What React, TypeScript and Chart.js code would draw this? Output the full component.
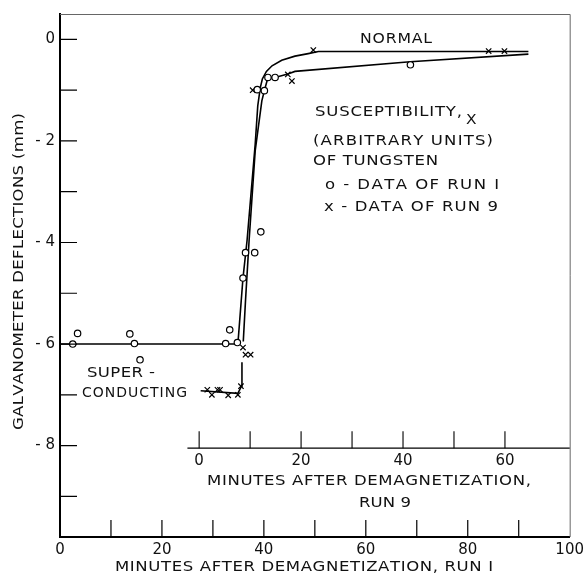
import React, { useEffect, useRef } from "react";
import { Chart, registerables } from "chart.js";

Chart.register(...registerables);

// ---- axes ----
const X_TICKS = [0, 20, 40, 60, 80, 100];
const X_MINOR = [10, 20, 30, 40, 50, 60, 70, 80, 90];
const Y_TICKS = [0, -2, -4, -6, -8];
const Y_MINOR = [0, -1, -2, -3, -4, -5, -6, -7, -8, -9];
const RUN9_TICKS = [0, 10, 20, 30, 40, 50, 60];
const RUN9_LABELS = [0, 20, 40, 60];
const RUN9_OFFSET = 27.3; // run-1 minute at which run-9 time is zero
const RUN9_AXIS_START = -2.3; // run-9 minutes where its axis line begins
const RUN9_AXIS_Y = -8.05;

// ---- run 1 (circles), minutes after demagnetization, run 1 ----
const RUN1_X = [2.5, 3.45, 13.7, 14.6, 15.7, 32.5, 33.3, 34.8, 35.9, 36.4, 38.2, 39.4, 38.7, 40.1, 40.8, 42.2, 68.75];
const RUN1_Y = [-6.0, -5.79, -5.8, -5.99, -6.31, -5.99, -5.72, -5.97, -4.7, -4.2, -4.2, -3.79, -0.99, -1.01, -0.75, -0.75, -0.5];

// ---- run 9 (crosses), minutes after demagnetization, run 9 ----
const RUN9_X = [1.6, 2.5, 3.6, 4.1, 5.7, 7.6, 8.2, 8.6, 9.1, 10.1, 10.5, 17.4, 18.2, 22.4, 56.8, 59.9];
const RUN9_Y = [-6.9, -7.0, -6.9, -6.9, -7.01, -7.0, -6.83, -6.07, -6.21, -6.21, -1.0, -0.69, -0.82, -0.21, -0.23, -0.23];

// ---- hand-drawn curves ----
const CURVE1_X = [0, 34.9, 35.9, 36.7, 38.3, 38.8, 39.3, 39.7, 40.5, 41.6, 43.5, 46.1, 48.7, 50.7, 91.9];
const CURVE1_Y = [-6.0, -6.0, -4.7, -3.96, -2.06, -1.31, -0.95, -0.78, -0.63, -0.52, -0.41, -0.33, -0.28, -0.24, -0.24];
const CURVE9_X = [0.3, 7.6, 8.3, 8.4, 8.5, 8.66, 9.1, 9.8, 11.0, 12.3, 12.8, 13.5, 14.9, 17.4, 18.8, 41.4, 64.6];
const CURVE9_Y = [-6.92, -6.97, -6.83, -6.36, null, -5.95, -5.14, -3.96, -2.19, -1.21, -1.01, -0.75, -0.75, -0.68, -0.63, -0.44, -0.29];

const FONT = '"DejaVu Sans", "Liberation Sans", sans-serif';
const INK = "#111";
const STRETCH = 1.18;

function pts(xs: number[], ys: (number | null)[]) {
  return xs.map((x, i) => ({ x, y: ys[i] }));
}

// draw lettering spread between left and right, glyphs slightly widened
function spaced(ctx: CanvasRenderingContext2D, text: string, left: number, right: number, cy: number, sx = STRETCH) {
  const chars = [...text];
  const widths = chars.map((c) => ctx.measureText(c).width * sx);
  const total = widths.reduce((a, b) => a + b, 0);
  const gap = chars.length > 1 ? (right - left - total) / (chars.length - 1) : 0;
  let x = left;
  ctx.textAlign = "left";
  ctx.textBaseline = "middle";
  chars.forEach((c, i) => {
    ctx.save();
    ctx.translate(x, cy);
    ctx.scale(sx, 1);
    ctx.fillText(c, 0, 0);
    ctx.restore();
    x += widths[i] + gap;
  });
}

const decorations = {
  id: "decorations",
  afterDraw(chart: any) {
    const ctx: CanvasRenderingContext2D = chart.ctx;
    const xs = chart.scales.x;
    const ys = chart.scales.y;
    const x9 = chart.scales.x9;
    const { left, right, top, bottom } = chart.chartArea;
    ctx.save();

    // thin top / right frame
    ctx.strokeStyle = "#666";
    ctx.lineWidth = 1;
    ctx.beginPath();
    ctx.moveTo(left, top + 0.5);
    ctx.lineTo(right + 0.5, top + 0.5);
    ctx.lineTo(right + 0.5, bottom);
    ctx.stroke();

    // inward ticks
    ctx.strokeStyle = "#000";
    ctx.lineWidth = 1.2;
    ctx.beginPath();
    Y_MINOR.forEach((v) => {
      const py = ys.getPixelForValue(v);
      ctx.moveTo(left, py);
      ctx.lineTo(left + 17, py);
    });
    X_MINOR.forEach((v) => {
      const px = xs.getPixelForValue(v);
      ctx.moveTo(px, bottom);
      ctx.lineTo(px, bottom - 17);
    });
    ctx.stroke();

    // run 9 axis
    const ay = ys.getPixelForValue(RUN9_AXIS_Y);
    ctx.lineWidth = 1.4;
    ctx.beginPath();
    ctx.moveTo(x9.getPixelForValue(RUN9_AXIS_START), ay);
    ctx.lineTo(right, ay);
    ctx.stroke();
    ctx.lineWidth = 1.1;
    ctx.beginPath();
    RUN9_TICKS.forEach((t) => {
      const px = x9.getPixelForValue(t);
      ctx.moveTo(px, ay);
      ctx.lineTo(px, ay - 17);
    });
    ctx.stroke();

    ctx.fillStyle = INK;
    ctx.font = `15px ${FONT}`;
    ctx.textAlign = "center";
    ctx.textBaseline = "middle";
    RUN9_LABELS.forEach((t) => {
      ctx.fillText(String(t), x9.getPixelForValue(t), ay + 13);
    });

    ctx.font = `14px ${FONT}`;
    spaced(ctx, "MINUTES AFTER DEMAGNETIZATION,", 207, 531, ay + 33);
    spaced(ctx, "RUN 9", 359, 411, ay + 55);

    // bottom axis title
    spaced(ctx, "MINUTES AFTER DEMAGNETIZATION, RUN I", 115, 493, 567);

    // y axis title (rotated)
    ctx.save();
    ctx.translate(19, 430);
    ctx.rotate(-Math.PI / 2);
    spaced(ctx, "GALVANOMETER DEFLECTIONS (mm)", 0, 317, 0);
    ctx.restore();

    // annotations
    ctx.font = `14px ${FONT}`;
    spaced(ctx, "NORMAL", 360, 432, 39, 1.12);
    spaced(ctx, "SUSCEPTIBILITY,", 315, 462, 112);
    spaced(ctx, "X", 466, 477, 120, 1.1);
    spaced(ctx, "(ARBITRARY UNITS)", 313, 493, 141);
    spaced(ctx, "OF TUNGSTEN", 313, 438, 161);
    spaced(ctx, "o - DATA OF RUN I", 325, 499, 185);
    spaced(ctx, "x - DATA OF RUN 9", 324, 498, 207);
    spaced(ctx, "SUPER -", 87, 155, 373);
    spaced(ctx, "CONDUCTING", 82, 187, 393, 1.0);

    ctx.restore();
  },
};

export default function App() {
  const ref = useRef<HTMLCanvasElement>(null);
  useEffect(() => {
    document.body.style.margin = "0";
    const canvas = ref.current!;
    const chart = new Chart(canvas, {
      type: "scatter",
      data: {
        datasets: [
          {
            label: "Run 1 data",
            data: pts(RUN1_X, RUN1_Y),
            xAxisID: "x",
            pointStyle: "circle",
            pointRadius: 3.2,
            pointBorderWidth: 1.2,
            pointBorderColor: "#000",
            pointBackgroundColor: "#fff",
            showLine: false,
            order: 0,
          },
          {
            label: "Run 9 data",
            data: pts(RUN9_X, RUN9_Y),
            xAxisID: "x9",
            pointStyle: "crossRot",
            pointRadius: 3.8,
            pointBorderWidth: 1.2,
            pointBorderColor: "#000",
            pointBackgroundColor: "#000",
            showLine: false,
            order: 0,
          },
          {
            label: "Run 1 curve",
            data: pts(CURVE1_X, CURVE1_Y),
            xAxisID: "x",
            showLine: true,
            pointRadius: 0,
            borderColor: "#000",
            borderWidth: 1.6,
            tension: 0,
            order: 1,
          },
          {
            label: "Run 9 curve",
            data: pts(CURVE9_X, CURVE9_Y),
            xAxisID: "x9",
            showLine: true,
            spanGaps: false,
            pointRadius: 0,
            borderColor: "#000",
            borderWidth: 1.6,
            tension: 0,
            order: 1,
          },
        ],
      },
      options: {
        animation: false,
        responsive: false,
        devicePixelRatio: 1,
        layout: { padding: { top: 13, right: 15, left: 0, bottom: 0 } },
        plugins: { legend: { display: false }, tooltip: { enabled: false } },
        scales: {
          x: {
            type: "linear",
            position: "bottom",
            min: 0,
            max: 100,
            afterBuildTicks: (s: any) => {
              s.ticks = X_TICKS.map((v) => ({ value: v }));
            },
            afterFit: (s: any) => {
              s.height = 40;
            },
            grid: { display: false, drawTicks: false },
            border: { display: true, color: "#000", width: 2 },
            ticks: {
              color: INK,
              font: { family: FONT, size: 15 },
              padding: 4,
              maxRotation: 0,
              autoSkip: false,
            },
          },
          x9: {
            type: "linear",
            position: "bottom",
            display: false,
            min: -RUN9_OFFSET,
            max: 100 - RUN9_OFFSET,
          },
          y: {
            type: "linear",
            position: "left",
            min: -9.8,
            max: 0.5,
            afterBuildTicks: (s: any) => {
              s.ticks = Y_TICKS.map((v) => ({ value: v }));
            },
            afterFit: (s: any) => {
              s.width = 60;
            },
            grid: { display: false, drawTicks: false },
            border: { display: true, color: "#000", width: 2 },
            ticks: {
              color: INK,
              font: { family: FONT, size: 15 },
              padding: 5,
              autoSkip: false,
              callback: (v: any) => (Number(v) === 0 ? "0" : `- ${Math.abs(Number(v))}`),
            },
          },
        },
      },
      plugins: [decorations],
    });
    return () => chart.destroy();
  }, []);
  return <canvas ref={ref} width={588} height={577} style={{ display: "block" }} />;
}
